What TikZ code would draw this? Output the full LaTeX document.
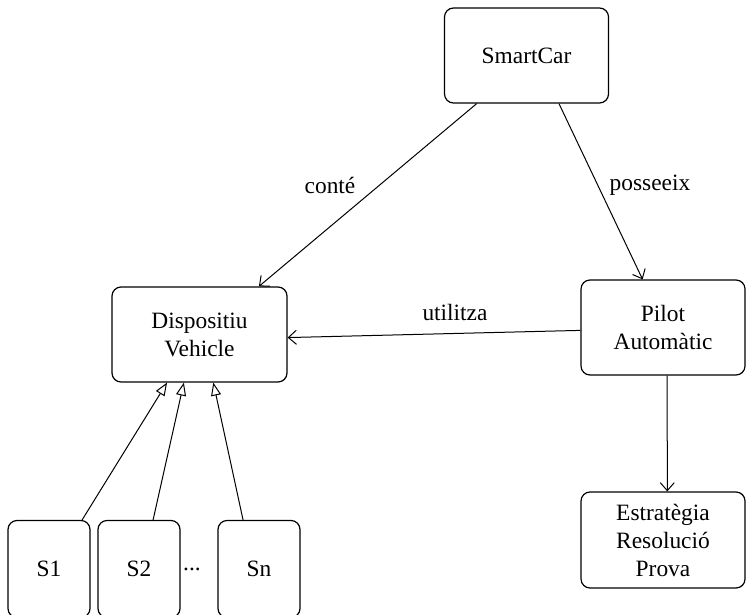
\documentclass[tikz,border=0pt]{standalone}
\usepackage{fontspec}
\setmainfont{Liberation Serif}
\usetikzlibrary{arrows.meta}

\begin{document}
\begin{tikzpicture}[
  x=0.5pt, y=-0.5pt,
  font=\fontsize{11.7}{14}\selectfont,
  box/.style={draw, rounded corners=4.5pt, line width=0.6pt, align=center, inner sep=0pt},
  bigbox/.style={box, minimum width=82pt, minimum height=47.5pt},
  sbox/.style={box, minimum width=41pt, minimum height=48.5pt},
  lbl/.style={inner sep=1pt},
  arr/.style={line width=0.5pt, -{Straight Barb[length=4pt,width=7pt]}},
  inh/.style={line width=0.5pt, -{Triangle[open,length=6.5pt,width=5pt]}}]
\useasboundingbox (0,0) rectangle (747,614);
\node[bigbox] (smartcar) at (526.5,55.5) {SmartCar};
\node[bigbox, minimum width=87.5pt] (dispositiu) at (199.5,334.5) {Dispositiu\\Vehicle};
\node[bigbox] (pilot) at (663,327.5) {Pilot\\Automàtic};
\node[bigbox, minimum height=48pt] (estrategia) at (663,540) {Estratègia\\Resolució\\Prova};
\node[sbox] (s1) at (49,569) {S1};
\node[sbox] (s2) at (139,569) {S2};
\node (dots) at (192,569) {...};
\node[sbox] (sn) at (259,569) {Sn};
\node[lbl] (conte) at (330,185) {conté};
\node[lbl] (posseeix) at (650,185) {posseeix};
\node[lbl] (utilitza) at (455,312) {utilitza};
\draw[arr] (smartcar.224) -- (dispositiu.39);
\draw[arr] (smartcar.304) -- (pilot.113);
\draw[arr] (pilot.182) -- (dispositiu.358);
\draw[arr] (pilot.275) -- (estrategia.85);
\draw[inh] (s1.56) -- (dispositiu.236);
\draw[inh] (s2.74) -- (dispositiu.252);
\draw[inh] (sn.108) -- (dispositiu.286);
\end{tikzpicture}
\end{document}
